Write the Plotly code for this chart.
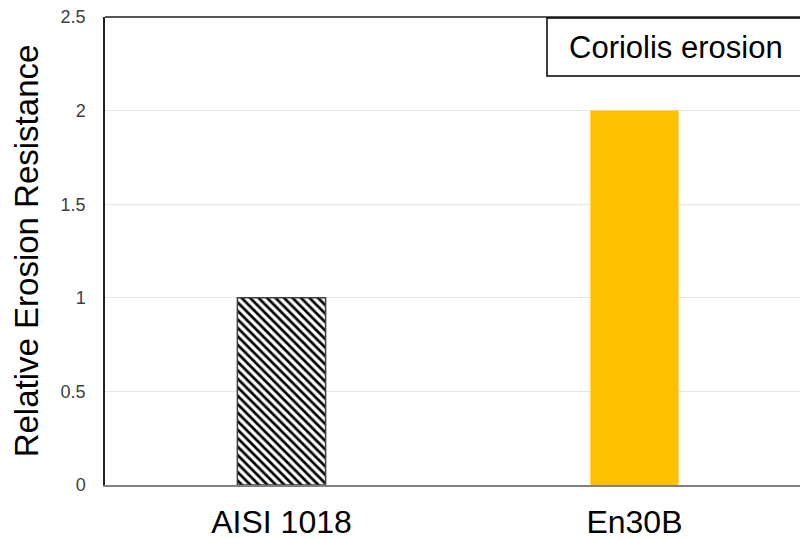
import plotly.graph_objects as go

categories = ["AISI 1018", "En30B"]
values = [1.0, 2.0]
y_ticks = [0, 0.5, 1, 1.5, 2, 2.5]
y_tick_labels = ["0", "0.5", "1", "1.5", "2", "2.5"]
box_label = "Coriolis erosion"

fig = go.Figure()
fig.add_trace(go.Bar(
    x=[0], y=values[:1],
    width=0.25,
    marker=dict(
        color="black",
        line=dict(color="#404040", width=1.5),
        pattern=dict(shape="\\", fgcolor="black", bgcolor="white",
                     fgopacity=1, size=6, solidity=0.45),
    ),
    showlegend=False,
))
fig.add_trace(go.Bar(
    x=[1], y=values[1:],
    width=0.25,
    marker=dict(color="#FFC000", line=dict(width=0)),
    showlegend=False,
))

fig.update_layout(
    width=800, height=539,
    margin=dict(l=105, r=0, t=17, b=54),
    barmode="overlay",
    paper_bgcolor="white", plot_bgcolor="white",
    font=dict(family="Liberation Sans, Arial, sans-serif", color="black"),
    xaxis=dict(
        range=[-0.5, 1.469],
        tickvals=[0, 1], ticktext=categories,
        tickfont=dict(size=32, color="black"),
        showgrid=False, zeroline=False,
        showline=True, linecolor="#808080", linewidth=2,
        ticks="", ticklabelstandoff=8,
    ),
    yaxis=dict(
        range=[0, 2.5],
        tickvals=y_ticks, ticktext=y_tick_labels,
        tickfont=dict(size=18, color="#404040"),
        showgrid=True, gridcolor="#E6E6E6", gridwidth=1,
        zeroline=False,
        showline=True, linecolor="#202020", linewidth=1.5,
        ticks="", ticklabelstandoff=14,
        title=dict(text="Relative Erosion Resistance",
                   font=dict(size=33, color="black"), standoff=12),
    ),
    shapes=[
        dict(type="line", xref="paper", yref="paper", x0=0, x1=1, y0=1, y1=1,
             line=dict(color="#202020", width=1.5)),
        dict(type="rect", xref="paper", yref="paper",
             x0=(547 - 105) / 695, x1=1.02, y0=(485 - 76) / 468, y1=(485 - 18) / 468,
             line=dict(color="black", width=1.5), fillcolor="white"),
    ],
    annotations=[
        dict(text=box_label, xref="paper", yref="paper",
             x=(676 - 105) / 695, y=(485 - 47) / 468,
             showarrow=False, font=dict(size=31, color="black"),
             xanchor="center", yanchor="middle"),
    ],
)

fig.write_html("out.html", config={"displayModeBar": False},
               post_script="document.body.style.margin='0';document.body.style.overflow='hidden';")
